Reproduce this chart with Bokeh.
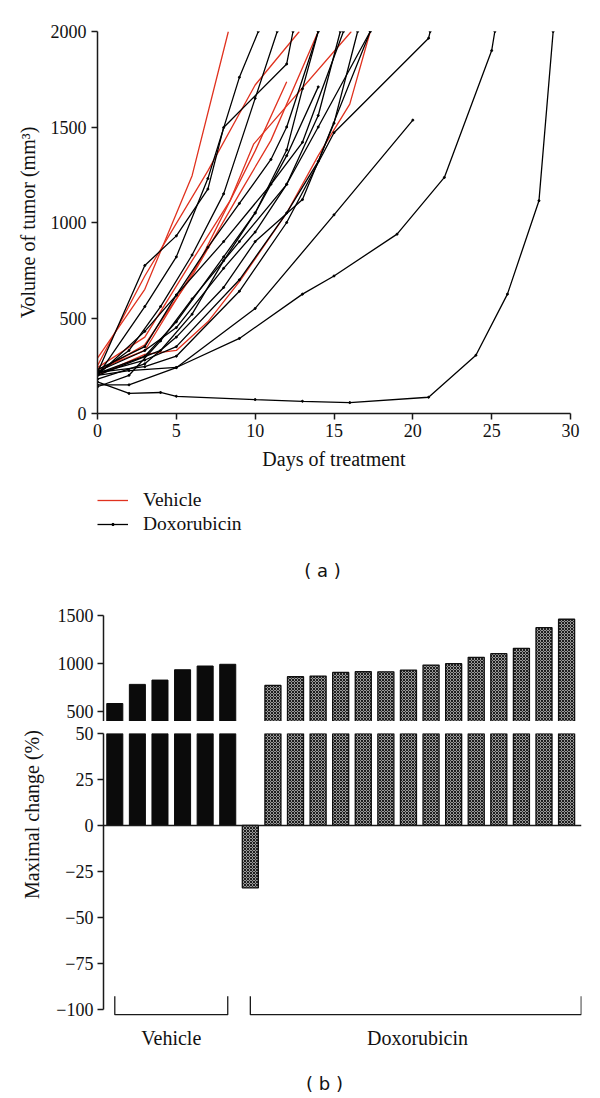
import math
from bokeh.plotting import figure
from bokeh.layouts import column, row
from bokeh.models import Range1d, FixedTicker, Legend, LegendItem, Label, Span
from bokeh.embed import file_html
from bokeh.resources import INLINE

SERIF = "Liberation Serif, serif"

# ---------------- data: panel (a) ----------------
vehicle_days = [
    [0, 3, 6, 8.3],
    [0, 3, 7, 10, 12.8],
    [0, 3, 6.5, 10, 12],
    [0, 3, 6, 9, 11, 14],
    [0, 3, 5, 7, 9, 12, 14, 16, 17.3],
    [0, 3, 6, 8.4, 9.9, 16.1],
]
vehicle_vol = [
    [290, 650, 1245, 2000],
    [250, 720, 1270, 1720, 2000],
    [230, 330, 800, 1375, 1737],
    [215, 360, 720, 1150, 1430, 2000],
    [200, 310, 330, 480, 690, 1050, 1350, 1620, 2000],
    [240, 400, 800, 1113, 1410, 2000],
]
dox_days = [
    [0, 3, 5, 7, 8, 12, 12.4],
    [0, 3, 5, 7, 9, 10.2],
    [0, 2, 4, 6, 8, 10, 11.4],
    [0, 3, 5, 8, 10, 12, 13, 14],
    [0, 4, 6, 8, 10, 12, 14],
    [0, 3, 5, 8, 10, 12, 14, 15.4],
    [0, 3, 5, 8, 11, 13, 15.6],
    [0, 3, 5, 8, 10, 13, 15, 16.5],
    [0, 3, 5, 9, 12, 14, 17.3],
    [0, 2, 5, 10, 15, 20],
    [0, 3, 5, 9, 12, 15, 21, 21.1],
    [0, 2, 5, 9, 13, 15, 19, 22, 25, 25.2],
    [0, 2, 4, 5, 10, 13, 16, 21, 24, 26, 28, 28.9],
    [0, 3, 5, 7, 9, 11, 12, 14],
    [0, 2, 4, 6, 9, 12, 14, 17.3],
]
dox_vol = [
    [215, 775, 930, 1175, 1497, 1830, 2000],
    [200, 560, 820, 1230, 1760, 2000],
    [210, 330, 560, 830, 1150, 1650, 2000],
    [210, 300, 480, 820, 1050, 1380, 1700, 2000],
    [200, 330, 520, 800, 1050, 1350, 1710],
    [220, 330, 450, 760, 950, 1200, 1560, 2000],
    [200, 430, 620, 900, 1200, 1420, 2000],
    [180, 260, 400, 660, 900, 1120, 1520, 2000],
    [210, 280, 350, 700, 1050, 1320, 2000],
    [150, 150, 240, 550, 1040, 1536],
    [215, 245, 300, 640, 1000, 1470, 1965, 2000],
    [200, 225, 241, 393, 625, 720, 939, 1236, 1900, 2000],
    [165, 105, 110, 90, 73, 64, 57, 85, 305, 625, 1114, 2000],
    [230, 350, 620, 870, 1100, 1330, 1500, 2000],
    [140, 200, 380, 600, 900, 1200, 1500, 2000],
]
day_ticks = [0, 5, 10, 15, 20, 25, 30]
vol_ticks = [0, 500, 1000, 1500, 2000]
series_names = ["Vehicle", "Doxorubicin"]

# ---------------- data: panel (b) ----------------
vehicle_change = [580, 780, 825, 933, 972, 990]
dox_change = [-34, 769, 860, 867, 905, 912, 911, 930, 982, 996, 1063, 1101, 1157, 1373, 1461]
group_labels = ["Vehicle", "Doxorubicin"]
upper_ticks = [500, 1000, 1500]
lower_ticks = [-100, -75, -50, -25, 0, 25, 50]

RED = "#e0321f"
AX = "#1a1a1a"
TXT = "#111111"


def style_axis(ax, size="18px", title_size="20px"):
    ax.axis_line_color = AX
    ax.axis_line_width = 1.5
    ax.major_tick_line_color = AX
    ax.major_tick_line_width = 1.5
    ax.major_tick_in = 0
    ax.major_tick_out = 6
    ax.minor_tick_line_color = None
    ax.major_label_text_font = SERIF
    ax.major_label_text_font_size = size
    ax.major_label_text_color = TXT
    ax.axis_label_text_font = SERIF
    ax.axis_label_text_font_size = title_size
    ax.axis_label_text_font_style = "normal"
    ax.axis_label_text_color = TXT


def blank(fig):
    fig.grid.visible = False
    fig.outline_line_color = None
    fig.background_fill_color = None
    fig.border_fill_color = None


def strip(w, h):
    f = figure(width=w, height=h, x_range=Range1d(0, 1), y_range=Range1d(0, 1),
               output_backend="svg", toolbar_location=None,
               x_axis_location=None, y_axis_location=None,
               min_border_left=0, min_border_right=0, min_border_top=0, min_border_bottom=0)
    blank(f)
    return f


# ================= panel (a) =================
pa = figure(width=600, height=480, x_range=Range1d(0, 30), y_range=Range1d(0, 2000),
            output_backend="svg", toolbar_location=None,
            min_border_left=97, min_border_right=30, min_border_top=31, min_border_bottom=67)
blank(pa)
style_axis(pa.xaxis[0])
style_axis(pa.yaxis[0])
pa.xaxis.ticker = FixedTicker(ticks=day_ticks)
pa.yaxis.ticker = FixedTicker(ticks=vol_ticks)
pa.xaxis.axis_label = "Days of treatment"
pa.yaxis.axis_label = "Volume of tumor (mm³)"
pa.xaxis.major_label_standoff = 4
pa.yaxis.major_label_standoff = 5
pa.yaxis.axis_label_standoff = 9
pa.xaxis.axis_label_standoff = 8

for d, v in zip(vehicle_days, vehicle_vol):
    pa.line(d, v, line_color=RED, line_width=1.3)

for d, v in zip(dox_days, dox_vol):
    pa.line(d, v, line_color="black", line_width=1.3)
    pa.scatter(d, v, size=2, color="black")

# ---- legend + caption strip for (a) (its frame is aligned with panel (a)'s frame) ----
pleg = strip(600, 120)
# legend swatches: one point each, lying outside this strip's ranges so only the legend shows them
lg_v = pleg.line([-1, -1], [-1, -1], line_color=RED, line_width=1.3)
lg_dl = pleg.line([-1, -1], [-1, -1], line_color="black", line_width=1.3)
lg_ds = pleg.scatter([-1], [-1], size=2, color="black")
legend = Legend(items=[LegendItem(label=series_names[0], renderers=[lg_v]),
                       LegendItem(label=series_names[1], renderers=[lg_dl, lg_ds])],
                location=(0, 65), orientation="vertical",
                border_line_color=None, background_fill_alpha=0,
                label_text_font=SERIF, label_text_font_size="19.5px",
                label_text_color=TXT, label_height=22,
                glyph_width=31, glyph_height=6, label_standoff=15,
                spacing=2, padding=0, margin=0)
pleg.add_layout(legend)
pleg.add_layout(Label(x=225, y=30, x_units="screen", y_units="screen", text="( a )",
                      text_align="center", text_baseline="middle",
                      text_font="DejaVu Sans", text_font_size="18px", text_color=TXT))

# ================= panel (b) =================
n_veh = len(vehicle_change)
veh_x = list(range(n_veh))
dox_x = list(range(n_veh, n_veh + len(dox_change)))
xr = Range1d(-0.5, 20.66)
BAR_W = 0.71
LAB_W = 45
upper_range = Range1d(392, 1500)
lower_range = Range1d(-104, 50)

# narrow strip carrying the shared y-axis title of the broken axis
plab = strip(LAB_W, 466)
plab.add_layout(Label(x=31, y=252, x_units="screen", y_units="screen",
                      text="Maximal change (%)", angle=math.pi / 2,
                      text_align="center", text_baseline="middle",
                      text_font=SERIF, text_font_size="20px", text_color=TXT))

pb1 = figure(width=600 - LAB_W, height=121, x_range=xr, y_range=upper_range,
             output_backend="svg", toolbar_location=None, x_axis_location=None,
             min_border_left=103 - LAB_W, min_border_right=19, min_border_top=15,
             min_border_bottom=0)
pb2 = figure(width=600 - LAB_W, height=345, x_range=xr, y_range=lower_range,
             output_backend="svg", toolbar_location=None,
             min_border_left=103 - LAB_W, min_border_right=19, min_border_top=12,
             min_border_bottom=50)

for p in (pb1, pb2):
    blank(p)
    style_axis(p.yaxis[0])
    p.yaxis.major_label_standoff = 4
    lo = p.y_range.start
    vx = [x for x, v in zip(veh_x, vehicle_change) if v > lo]
    vv = [v for v in vehicle_change if v > lo]
    dx = [x for x, v in zip(dox_x, dox_change) if v > lo]
    dv = [v for v in dox_change if v > lo]
    p.vbar(x=vx, top=vv, bottom=0, width=BAR_W,
           fill_color="#0b0b0b", line_color="#0b0b0b", line_width=1)
    p.vbar(x=dx, top=dv, bottom=0, width=BAR_W,
           fill_color="#9a9a9a", line_color="#111111", line_width=1.3,
           hatch_pattern="diagonal_cross", hatch_color="#1e1e1e",
           hatch_scale=3, hatch_weight=1)

pb1.yaxis.ticker = FixedTicker(ticks=upper_ticks)

pb2.yaxis.ticker = FixedTicker(ticks=lower_ticks)
pb2.yaxis.bounds = (lower_ticks[0], lower_ticks[-1])
pb2.yaxis.major_label_overrides = {t: str(t).replace("-", "−") for t in lower_ticks}

pb2.add_layout(Span(location=0, dimension="width", line_color=AX, line_width=1.5))

# group brackets
for xs in (veh_x, dox_x):
    x0, x1 = xs[0], xs[-1]
    if xs is dox_x:
        x1 = xr.end - 0.01
    pb2.line([x0, x0, x1, x1], [-93, -103, -103, -93], line_color=AX, line_width=1.3)

veh_c = (veh_x[0] + veh_x[-1]) / 2
dox_c = (dox_x[0] + dox_x[-1]) / 2 + 0.4
xa = pb2.xaxis[0]
xa.ticker = FixedTicker(ticks=[veh_c, dox_c])
xa.major_label_overrides = {veh_c: group_labels[0], dox_c: group_labels[1]}
xa.axis_line_color = None
xa.major_tick_line_color = None
xa.major_tick_out = 0
xa.major_tick_in = 0
xa.minor_tick_line_color = None
xa.major_label_text_font = SERIF
xa.major_label_text_font_size = "20px"
xa.major_label_text_color = TXT
xa.major_label_standoff = 10

pb3 = strip(600, 32)
pb3.add_layout(Label(x=227, y=15, x_units="screen", y_units="screen", text="( b )",
                     text_align="center", text_baseline="middle",
                     text_font="DejaVu Sans", text_font_size="18px", text_color=TXT))

layout = column(pa, pleg, row(plab, column(pb1, pb2, spacing=0), spacing=0), pb3, spacing=0)
open("out.html", "w").write(file_html(layout, INLINE))
